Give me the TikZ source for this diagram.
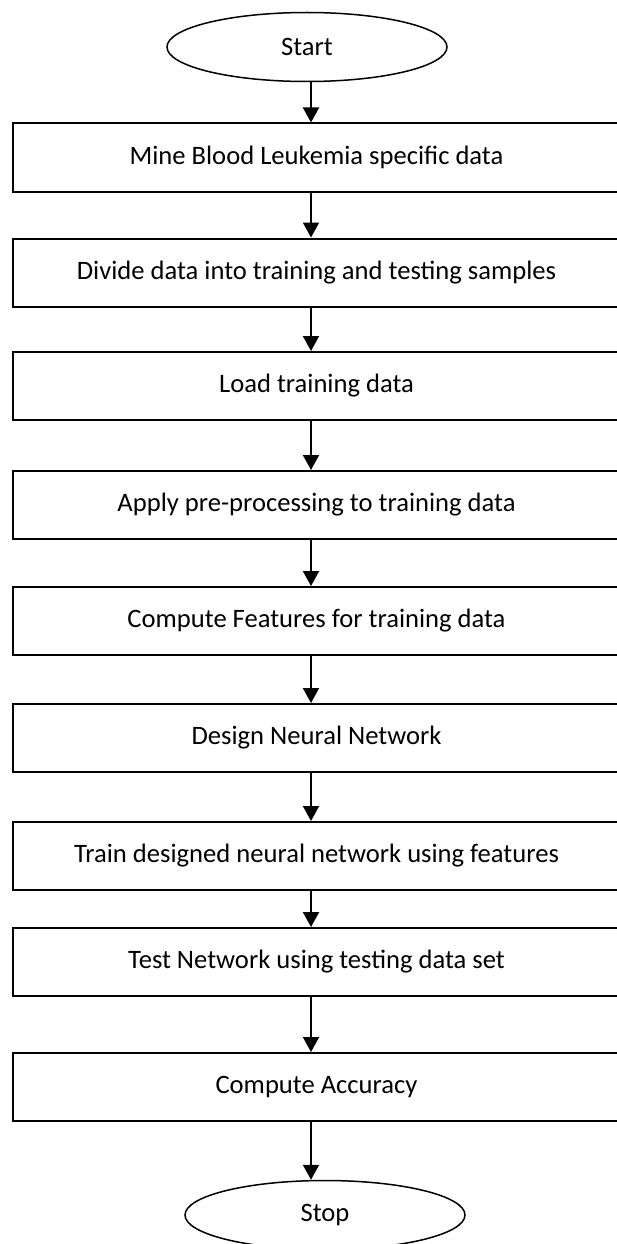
\documentclass[tikz,border=0pt]{standalone}
\usepackage{fontspec}
\setmainfont{Carlito}
\usetikzlibrary{arrows.meta,shapes.geometric}

\begin{document}
\begin{tikzpicture}[x=1pt,y=-1pt,
  stepbox/.style={draw,line width=2pt,minimum width=607pt,minimum height=68pt,inner sep=0pt},
  term/.style={draw,ellipse,line width=1.5pt,minimum width=280pt,minimum height=69pt,inner sep=0pt},
  flow/.style={-{Triangle[width=16pt,length=15pt]},line width=2pt},
  every node/.style={font=\fontsize{26.6}{32}\selectfont}]
\useasboundingbox (0,0) rectangle (617,1244);
\coordinate (axis) at (311,0);

\node[term] (start) at (307,47) {Start};

\node[stepbox] (b1) at (316.5,157.5) {Mine Blood Leukemia specific data};
\node[stepbox] (b2) at (316.5,272.5) {Divide data into training and testing samples};
\node[stepbox] (b3) at (316.5,386) {Load training data};
\node[stepbox] (b4) at (316.5,505) {Apply pre-processing to training data};
\node[stepbox] (b5) at (316.5,621) {Compute Features for training data};
\node[stepbox] (b6) at (316.5,738) {Design Neural Network};
\node[stepbox] (b7) at (316.5,856) {Train designed neural network using features};
\node[stepbox] (b8) at (316.5,962) {Test Network using testing data set};
\node[stepbox] (b9) at (316.5,1087) {Compute Accuracy};

\node[term] (stop) at (325,1215) {Stop};

\draw[flow] (start.south -| axis) -- (b1.north -| axis);
\draw[flow] (b1.south -| axis) -- (b2.north -| axis);
\draw[flow] (b2.south -| axis) -- (b3.north -| axis);
\draw[flow] (b3.south -| axis) -- (b4.north -| axis);
\draw[flow] (b4.south -| axis) -- (b5.north -| axis);
\draw[flow] (b5.south -| axis) -- (b6.north -| axis);
\draw[flow] (b6.south -| axis) -- (b7.north -| axis);
\draw[flow] (b7.south -| axis) -- (b8.north -| axis);
\draw[flow] (b8.south -| axis) -- (b9.north -| axis);
\draw[flow] (b9.south -| axis) -- (stop.north -| axis);
\end{tikzpicture}
\end{document}
